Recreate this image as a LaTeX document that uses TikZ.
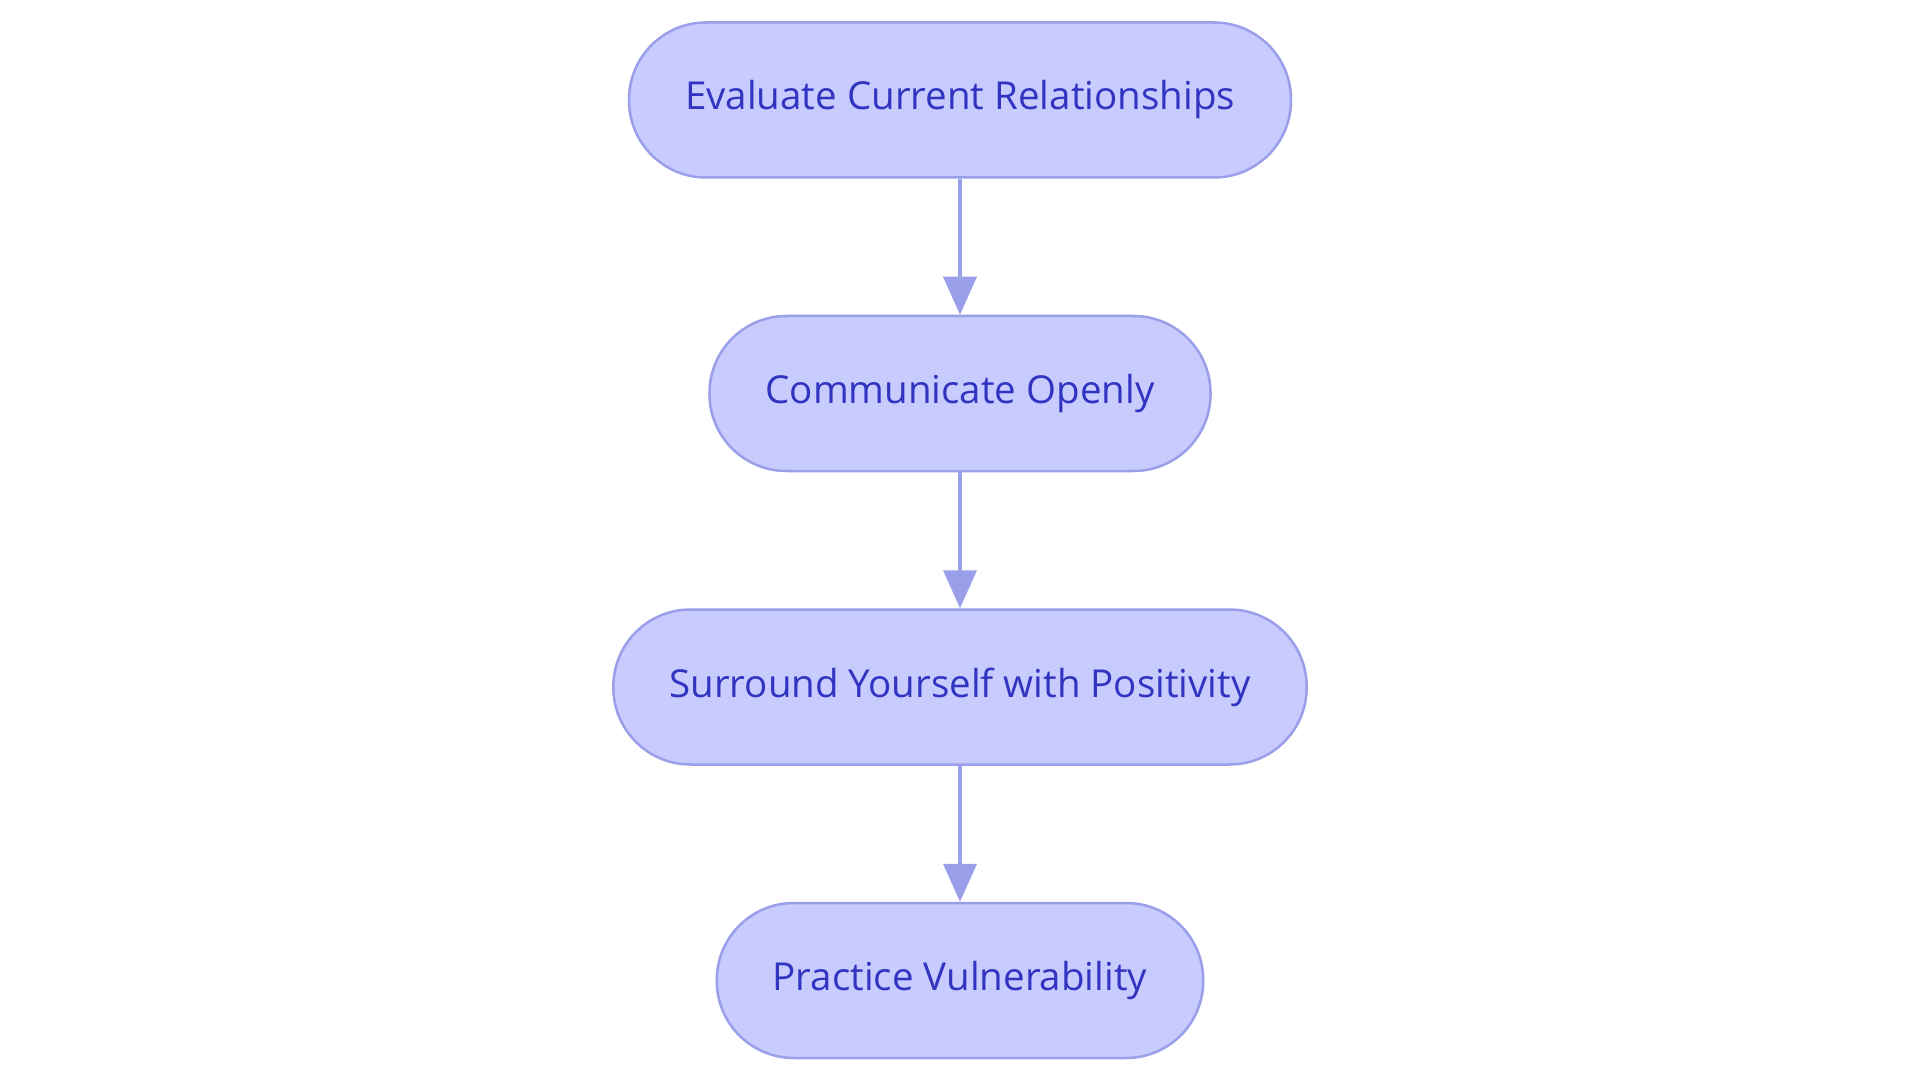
\documentclass[tikz,border=0pt]{standalone}
\usepackage{fontspec}
\setmainfont{Open Sans}
\usetikzlibrary{positioning,arrows.meta}
\definecolor{stepfill}{HTML}{C8CBFE}
\definecolor{stepline}{HTML}{9A9FEA}
\definecolor{steptext}{HTML}{3034C0}
\tikzset{
  stepbox/.style={draw=stepline, line width=2.5pt, fill=stepfill, text=steptext,
    rectangle, rounded corners=77pt, minimum height=155pt, inner xsep=56pt,
    font=\fontsize{38.5pt}{44pt}\selectfont},
  flow/.style={draw=stepline, line width=4pt, -{Triangle[length=38pt,width=33pt]}}
}
\begin{document}
\begin{tikzpicture}[x=1pt,y=1pt, node distance=136pt]
  % Rahmen
  \useasboundingbox (0,0) rectangle (1920,-1083);
  % Schritte
  \node[stepbox] (evaluate) at (960,-100) {Evaluate Current Relationships};
  \node[stepbox, below=of evaluate] (communicate) {Communicate Openly};
  \node[stepbox, below=of communicate] (surround) {Surround Yourself with Positivity};
  \node[stepbox, below=of surround] (practice) {Practice Vulnerability};
  % Pfeile
  \draw[flow] (evaluate) -- (communicate);
  \draw[flow] (communicate) -- (surround);
  \draw[flow] (surround) -- (practice);
\end{tikzpicture}
\end{document}
